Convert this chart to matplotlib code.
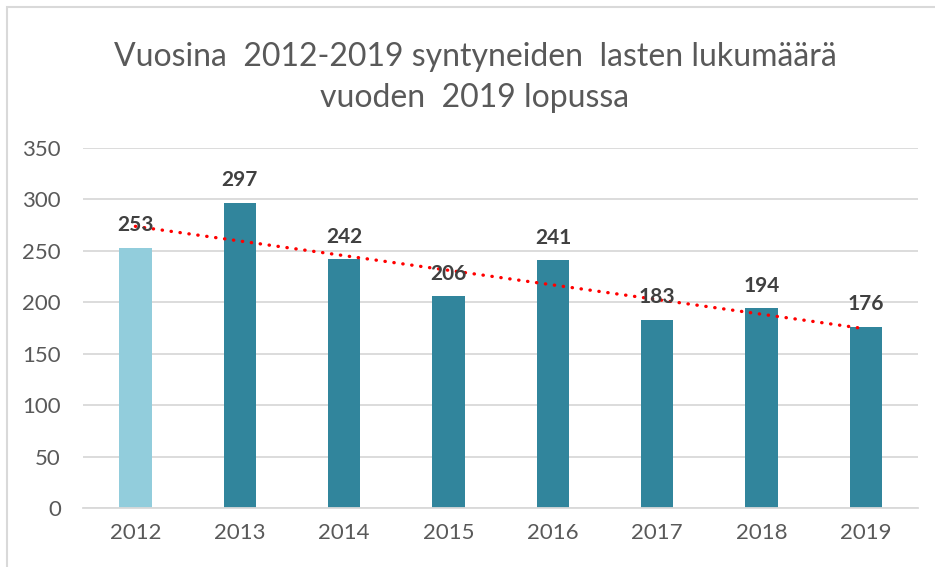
import numpy as np
import matplotlib.pyplot as plt
from matplotlib.patches import Rectangle

# ------------------------------------------------------| Data
years = ['2012', '2013', '2014', '2015', '2016', '2017', '2018', '2019']
counts = [253, 297, 242, 206, 241, 183, 194, 176]
bar_colors = ['#92CDDC'] + ['#31859C'] * 7

plt.rcParams['font.family'] = ['Lato', 'DejaVu Sans']

# ------------------------------------------------------| Plot
fig = plt.figure(figsize=(9.35, 5.67), dpi=100)
ax = fig.add_axes([0.089, 0.104, 0.893, 0.635])

x = np.arange(len(years))
ax.bar(x, counts, width=0.31, color=bar_colors, zorder=2)

# data labels
for xi, v in zip(x, counts):
    ax.annotate(str(v), (xi, v), xytext=(0, 9), textcoords='offset points',
                ha='center', va='bottom', fontsize=15, fontweight='bold',
                color='#404040', zorder=4)

# linear trend line (as in Excel)
k, b = np.polyfit(x, counts, 1)
ax.plot(x, k * x + b, color='#FF0000', linewidth=2.4,
        linestyle=(0, (0.1, 2.6)), dash_capstyle='round', zorder=3)

ax.set_xlim(-0.5, len(years) - 0.5)
ax.set_ylim(0, 350)
ax.set_yticks(range(0, 351, 50))
ax.set_xticks(x, years)
ax.grid(axis='y', color='#D9D9D9', linewidth=1.3, zorder=0)
ax.set_axisbelow(True)
for s in ['top', 'right', 'left']:
    ax.spines[s].set_visible(False)
ax.spines['bottom'].set_color('#D9D9D9')
ax.spines['bottom'].set_linewidth(1.3)
ax.tick_params(axis='both', length=0, labelsize=16, labelcolor='#595959')
ax.tick_params(axis='y', pad=16)
ax.tick_params(axis='x', pad=11)

fig.text(0.508, 0.863, 'Vuosina  2012-2019 syntyneiden  lasten lukumäärä\nvuoden  2019 lopussa',
         ha='center', va='center', fontsize=23, color='#595959',
         linespacing=1.45)

# chart border
fig.patches.append(Rectangle((0.008, -0.01), 1.0, 0.998, transform=fig.transFigure,
                             fill=False, edgecolor='#D9D9D9', linewidth=1.5))

fig.savefig('out.png', dpi=100)
